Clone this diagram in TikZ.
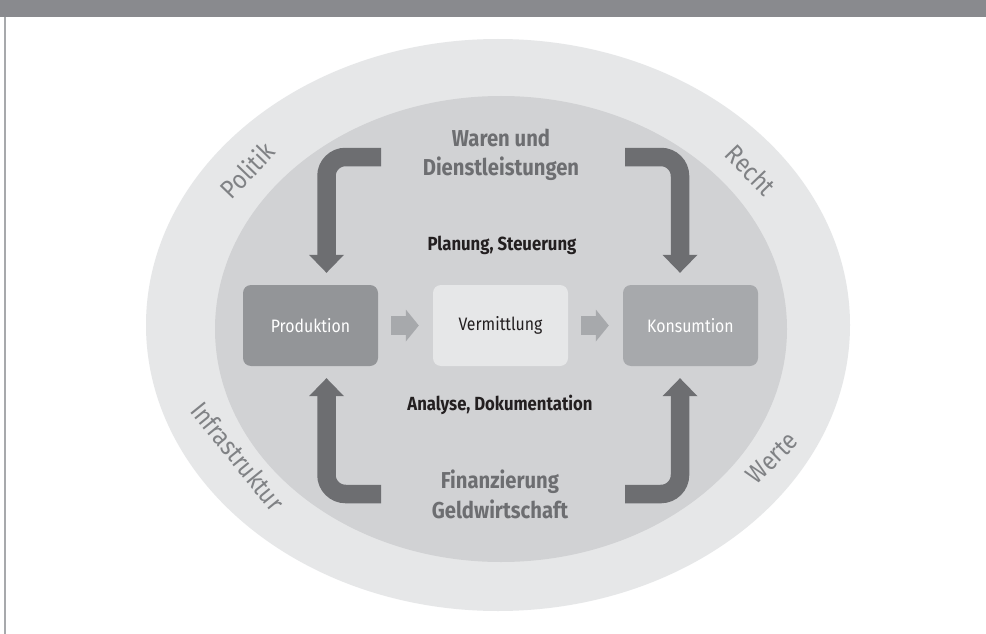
\documentclass[tikz,border=0pt]{standalone}
\usepackage{fontspec}
\setmainfont{Fira Sans}[FakeStretch=0.88]
\usetikzlibrary{arrows.meta}

\definecolor{barcol}{HTML}{898A8E}
\definecolor{framecol}{HTML}{A7A9AC}
\definecolor{ringouter}{HTML}{E6E7E8}
\definecolor{ringinner}{HTML}{D1D2D4}
\definecolor{prodcol}{HTML}{939598}
\definecolor{konscol}{HTML}{A7A9AC}
\definecolor{vermcol}{HTML}{E6E7E8}
\definecolor{flowcol}{HTML}{6D6E71}
\definecolor{stepcol}{HTML}{A7A9AC}
\definecolor{ringtext}{HTML}{808285}
\definecolor{darktext}{HTML}{231F20}

\begin{document}
\begin{tikzpicture}[x=1pt,y=-1pt,
  stagebox/.style={rounded corners=8pt, minimum width=135pt, minimum height=81pt,
    inner sep=0pt, font=\fontsize{18}{20}\selectfont},
  bigflow/.style={draw=flowcol, line width=18.5pt, rounded corners=19pt,
    -{Triangle[width=35pt,length=18pt,line width=0pt]}, shorten >=12pt},
  stepflow/.style={draw=stepcol, line width=19pt,
    -{Triangle[width=32pt,length=13pt,line width=0pt]},
    shorten <=13pt, shorten >=14pt},
  flowlabel/.style={text=flowcol, font=\bfseries\fontsize{23}{29.5}\selectfont, align=center},
  midlabel/.style={text=darktext, font=\bfseries\fontsize{19}{21}\selectfont},
  ringlabel/.style={text=ringtext, inner sep=0pt, font=\fontsize{26}{28}\selectfont}]

\useasboundingbox (0,0) rectangle (986,634);
\fill[white] (0,0) rectangle (986,634);

% header bar and left rule
\fill[barcol] (0,0) rectangle (986,17);
\draw[framecol, line width=1.5pt] (5,17) -- (5,634);

% framework rings
\fill[ringouter] (498,325) ellipse [x radius=352, y radius=286];
\fill[ringinner] (501,329) ellipse [x radius=286, y radius=233];

% ring labels
\node[ringlabel, rotate=46] (politik) at (247,170) {Politik};
\node[ringlabel, rotate=-46] (recht) at (751,170) {Recht};
\node[ringlabel, rotate=-51] (infra) at (238,456) {Infrastruktur};
\node[ringlabel, rotate=45] (werte) at (772,458) {Werte};

% stages
\node[stagebox, fill=prodcol, text=white] (prod) at (310.5,325.5) {Produktion};
\node[stagebox, fill=vermcol, text=darktext] (verm) at (500.5,325.5) {Vermittlung};
\node[stagebox, fill=konscol, text=white] (kons) at (690.5,325.5) {Konsumtion};

% step arrows between stages
\draw[stepflow] (prod.east) -- (verm.west);
\draw[stepflow] (verm.east) -- (kons.west);

% flow labels
\node[flowlabel] (waren) at (501,155) {Waren und\\Dienstleistungen};
\node[midlabel] (planung) at (502,245) {Planung, Steuerung};
\node[midlabel] (analyse) at (500,405) {Analyse, Dokumentation};
\node[flowlabel] (finanz) at (500,494.5) {Finanzierung\\Geldwirtschaft};

% flow arrows
\coordinate (tlstart) at (381,157);
\coordinate (trstart) at (625,157);
\coordinate (blstart) at (381,494);
\coordinate (brstart) at (625,494);
\coordinate (lbend) at (326.5,0);
\coordinate (rbend) at (680,0);

\draw[bigflow] (tlstart) -| (lbend |- prod.north);
\draw[bigflow] (trstart) -| (rbend |- kons.north);
\draw[bigflow] (blstart) -| (lbend |- prod.south);
\draw[bigflow] (brstart) -| (rbend |- kons.south);

\end{tikzpicture}
\end{document}
